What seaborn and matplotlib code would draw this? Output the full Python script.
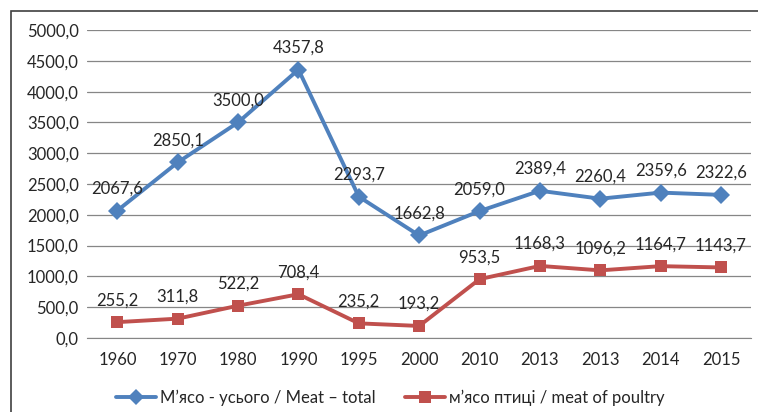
import pandas as pd
import matplotlib.pyplot as plt
import matplotlib.patches as mpatches
import seaborn as sns

# Дані з графіка
years = ["1960", "1970", "1980", "1990", "1995", "2000", "2010", "2013", "2013", "2014", "2015"]
meat_total = [2067.6, 2850.1, 3500.0, 4357.8, 2293.7, 1662.8, 2059.0, 2389.4, 2260.4, 2359.6, 2322.6]
meat_poultry = [255.2, 311.8, 522.2, 708.4, 235.2, 193.2, 953.5, 1168.3, 1096.2, 1164.7, 1143.7]
label_total = "М’ясо - усього / Meat – total"
label_poultry = "м’ясо птиці / meat of poultry"

sns.set_style("white")
plt.rcParams["font.family"] = ["Lato", "DejaVu Sans"]

pos = list(range(len(years)))
df = pd.concat([
    pd.DataFrame({"pos": pos, "value": meat_total, "series": label_total}),
    pd.DataFrame({"pos": pos, "value": meat_poultry, "series": label_poultry}),
], ignore_index=True)

fig = plt.figure(figsize=(7.58, 4.12), dpi=100)
ax = fig.add_axes([0.115, 0.180, 0.876, 0.747])

colors = {label_total: "#4F81BD", label_poultry: "#C0504D"}
sns.lineplot(
    data=df, x="pos", y="value", hue="series", style="series",
    palette=colors, markers={label_total: "D", label_poultry: "s"},
    dashes=False, linewidth=2.8, markersize=9, markeredgewidth=0,
    ax=ax, legend=False,
)

# Підписи значень
for vals in (meat_total, meat_poultry):
    for x, v in zip(pos, vals):
        ax.annotate(f"{v:.1f}".replace(".", ","), (x, v), xytext=(0, 10),
                    textcoords="offset points", ha="center", va="bottom", fontsize=12)

ax.set_xlim(-0.5, len(years) - 0.5)
ax.set_ylim(0, 5000)
ax.set_yticks(range(0, 5001, 500))
ax.set_yticklabels([f"{t:.1f}".replace(".", ",") for t in range(0, 5001, 500)], fontsize=12)
ax.set_xticks(pos)
ax.set_xticklabels(years, fontsize=12)
ax.set_xticks([p - 0.5 for p in pos] + [len(years) - 0.5], minor=True)
ax.tick_params(axis="x", which="major", length=0, pad=10)
ax.tick_params(axis="x", which="minor", length=5, color="#868686", direction="out")
ax.tick_params(axis="y", length=0, pad=6)
ax.set_xlabel("")
ax.set_ylabel("")
ax.grid(axis="y", color="#868686", linewidth=0.9)
ax.set_axisbelow(True)
for s in ["top", "right", "left"]:
    ax.spines[s].set_visible(False)
ax.spines["bottom"].set_color("#868686")

# Легенда
handles = [
    plt.Line2D([], [], color=colors[label_total], marker="D", lw=2.8, ms=8, mew=0),
    plt.Line2D([], [], color=colors[label_poultry], marker="s", lw=2.8, ms=8, mew=0),
]
fig.legend(handles, [label_total, label_poultry], loc="center", bbox_to_anchor=(0.515, 0.035),
           ncol=2, frameon=False, fontsize=12, handlelength=2.4, columnspacing=1.8, handletextpad=0.2)

# Рамка діаграми
fig.patches.append(mpatches.Rectangle((0.014, -0.1), 1.2, 1.073, transform=fig.transFigure,
                                      fill=False, edgecolor="#404040", linewidth=1.2))

plt.savefig("out.png", dpi=100)
